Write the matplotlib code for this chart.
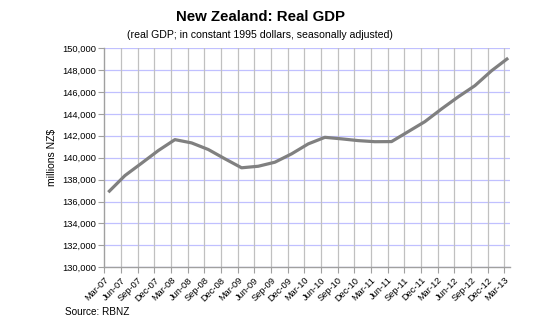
import numpy as np
import matplotlib
matplotlib.use("Agg")
import matplotlib.pyplot as plt

plt.rcParams['font.family'] = ['Liberation Sans', 'DejaVu Sans']

# quarterly real GDP, millions NZ$ (constant 1995 dollars)
quarters = ['Mar-07', 'Jun-07', 'Sep-07', 'Dec-07', 'Mar-08', 'Jun-08', 'Sep-08', 'Dec-08',
            'Mar-09', 'Jun-09', 'Sep-09', 'Dec-09', 'Mar-10', 'Jun-10', 'Sep-10', 'Dec-10',
            'Mar-11', 'Jun-11', 'Sep-11', 'Dec-11', 'Mar-12', 'Jun-12', 'Sep-12', 'Dec-12',
            'Mar-13']
gdp = [136850, 138370, 139500, 140650, 141650, 141350, 140750, 139900,
       139080, 139220, 139590, 140350, 141260, 141860, 141720, 141560,
       141460, 141470, 142380, 143290, 144450, 145550, 146570, 147930,
       149090]
yticks = list(range(130000, 150001, 2000))

x = np.arange(len(quarters))
shift = 0.24  # gridlines sit a little left of the points in the original

fig = plt.figure(figsize=(5.5, 3.25), dpi=100)
ax = fig.add_axes([0.1896, 0.1775, 0.7374, 0.6745])

# gridlines
for v in yticks:
    ax.axhline(v, color='#c0c0ff', lw=0.9, zorder=1)
for i in x[1:]:
    ax.axvline(i - shift, color='#c0c0c0', lw=0.9, zorder=1)

ax.plot(x, gdp, color='#808080', lw=2.3, zorder=3, solid_capstyle='butt')

ax.set_xlim(-shift, 24.1)
ax.set_ylim(130000, 150000)
ax.set_yticks(yticks)
ax.set_yticklabels([f'{v:,}' for v in yticks], fontsize=6.7)
ax.set_xticks(x - shift)
ax.set_xticklabels(quarters, rotation=45, ha='right', rotation_mode='anchor', fontsize=6.7)
ax.tick_params(axis='both', color='#a0a0a0', length=4, width=0.8, pad=2)

for s in ['top', 'right']:
    ax.spines[s].set_visible(False)
for s in ['left', 'bottom']:
    ax.spines[s].set_color('#a0a0a0')
    ax.spines[s].set_linewidth(1.0)

ax.set_ylabel('millions NZ$', fontsize=7.5)
ax.yaxis.set_label_coords(-0.117, 0.5)

fig.text(0.473, 0.948, 'New Zealand: Real GDP', ha='center', va='center',
         fontsize=10.8, fontweight='bold')
fig.text(0.473, 0.893, '(real GDP; in constant 1995 dollars, seasonally adjusted)',
         ha='center', va='center', fontsize=7.6)
fig.text(0.118, 0.04, 'Source: RBNZ', ha='left', va='center', fontsize=7.2)

fig.savefig('out.png', dpi=100)
